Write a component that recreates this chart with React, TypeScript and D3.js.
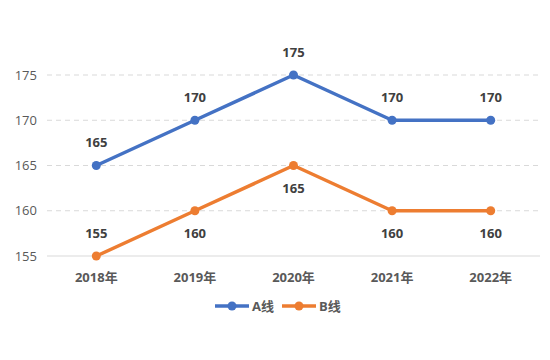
import React from "react";
import * as d3 from "d3";

const categories = ["2018年", "2019年", "2020年", "2021年", "2022年"];
const seriesA = [165, 170, 175, 170, 170];
const seriesB = [155, 160, 165, 160, 160];
const seriesNames = ["A线", "B线"];
const yTicks = [155, 160, 165, 170, 175];
// label placement: true = above, false = below
const labelAboveA = [true, true, true, true, true];
const labelAboveB = [true, false, false, false, false];

const W = 550, H = 360;
const colors = ["#4472C4", "#ED7D31"];
const font = "'Open Sans', 'Noto Sans CJK SC', sans-serif";

export default function App() {
  const x = d3.scaleBand().domain(categories).range([47, 540]);
  const y = d3.scaleLinear().domain([155, 175]).range([256, 75]);
  const line = d3.line<number>()
    .x((_, i) => (x(categories[i]) as number) + x.bandwidth() / 2)
    .y((d) => y(d));
  const series = [
    { name: seriesNames[0], values: seriesA, above: labelAboveA, color: colors[0] },
    { name: seriesNames[1], values: seriesB, above: labelAboveB, color: colors[1] },
  ];
  return (
    <svg width={W} height={H} style={{ position: "absolute", left: 0, top: 0, background: "#fff" }}
      fontFamily={font}>
      {yTicks.map((t) => (
        <g key={t}>
          {t !== 155 && (
            <line x1={47} x2={540} y1={y(t)} y2={y(t)} stroke="#D9D9D9" strokeDasharray="5,4" strokeWidth={1} />
          )}
          <text x={37} y={y(t)} dy="0.35em" textAnchor="end" fontSize={13} fill="#595959">{t}</text>
        </g>
      ))}
      <line x1={47} x2={540} y1={y(155)} y2={y(155)} stroke="#D9D9D9" strokeWidth={1} />
      {categories.map((c) => (
        <text key={c} x={(x(c) as number) + x.bandwidth() / 2} y={277} dy="0.35em" textAnchor="middle"
          fontSize={13} fontWeight="bold" fill="#595959">{c}</text>
      ))}
      {series.map((s) => (
        <g key={s.name}>
          <path d={line(s.values) || ""} fill="none" stroke={s.color} strokeWidth={3.5} strokeLinejoin="round" strokeLinecap="round" />
          {s.values.map((v, i) => {
            const cx = (x(categories[i]) as number) + x.bandwidth() / 2;
            return (
              <g key={i}>
                <circle cx={cx} cy={y(v)} r={4.5} fill={s.color} />
                <text x={cx} y={s.above[i] ? y(v) - 23 : y(v) + 23} dy="0.35em" textAnchor="middle"
                  fontSize={13} fontWeight="bold" fill="#404040">{v}</text>
              </g>
            );
          })}
        </g>
      ))}
      {series.map((s, i) => {
        const lx = 215 + i * 67;
        return (
          <g key={s.name}>
            <line x1={lx} x2={lx + 34} y1={306} y2={306} stroke={s.color} strokeWidth={3.5} />
            <circle cx={lx + 17} cy={306} r={4.5} fill={s.color} />
            <text x={lx + 37} y={306} dy="0.35em" fontSize={13} fontWeight="bold" fill="#595959">{s.name}</text>
          </g>
        );
      })}
    </svg>
  );
}
